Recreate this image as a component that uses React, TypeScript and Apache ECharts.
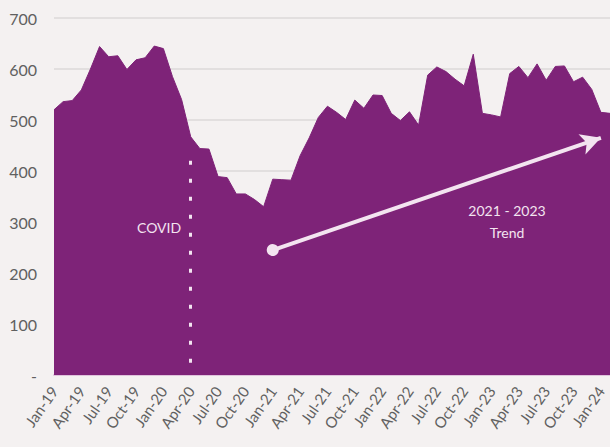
import React, { useEffect, useRef } from "react";
import * as echarts from "echarts";

const monthNames = ["Jan", "Feb", "Mar", "Apr", "May", "Jun", "Jul", "Aug", "Sep", "Oct", "Nov", "Dec"];
const years = ["19", "20", "21", "22", "23", "24"];
const categories: string[] = [];
years.forEach((y) => monthNames.forEach((m) => categories.push(`${m}-${y}`)));
categories.length = 62; // Jan-19 .. Feb-24

const values = [
  520, 536, 538, 559, 600, 644, 624, 626, 599, 618, 622, 645,
  640, 585, 540, 467, 444, 443, 389, 387, 355, 355, 344, 330,
  384, 383, 382, 430, 465, 505, 527, 515, 501, 539, 523, 549,
  548, 513, 499, 516, 490, 588, 604, 595, 580, 567, 629, 513,
  510, 506, 591, 605, 583, 610, 578, 605, 606, 575, 584, 560,
  515, 513,
];

const covidMonth = "Apr-20";
const covidTop = 420;
const trendStart = { month: "Jan-21", value: 245 };
const trendEnd = { month: "Jan-24", value: 465 };

const PURPLE = "#7e2378";
const ANNOT = "#f3e4f0";

export default function App() {
  const ref = useRef<HTMLDivElement>(null);
  useEffect(() => {
    if (!ref.current) return;
    const chart = echarts.init(ref.current, null, { renderer: "svg" });
    chart.setOption({
      animation: false,
      backgroundColor: "#f4f1f1",
      textStyle: { fontFamily: "Lato" },
      grid: { left: 54, right: 0, top: 18, bottom: 72, containLabel: false },
      xAxis: {
        type: "category",
        data: categories,
        boundaryGap: false,
        axisLine: { show: true, lineStyle: { color: "#dfc3dc", width: 2 } },
        axisTick: { show: false },
        splitLine: { show: false },
        axisLabel: {
          interval: 2,
          rotate: 55,
          margin: 13,
          fontSize: 15,
          color: "#606060",
          fontFamily: "Lato",
        },
      },
      yAxis: {
        type: "value",
        min: 0,
        max: 700,
        interval: 100,
        axisLine: { show: false },
        axisTick: { show: false },
        splitLine: { lineStyle: { color: "#dcd9d9", width: 1.5 } },
        axisLabel: {
          margin: 17,
          fontSize: 16,
          color: "#606060",
          fontFamily: "Lato",
          formatter: (v: number) => (v === 0 ? "-" : String(v)),
        },
      },
      series: [
        {
          type: "line",
          data: values,
          symbol: "none",
          lineStyle: { color: PURPLE, width: 1 },
          itemStyle: { color: PURPLE },
          areaStyle: { color: PURPLE, opacity: 1 },
          z: 2,
          markLine: {
            silent: true,
            animation: false,
            label: { show: false },
            data: [
              [
                { coord: [covidMonth, covidTop], symbol: "none", lineStyle: { type: [4, 14], color: ANNOT, width: 3 } },
                { coord: [covidMonth, 0], symbol: "none" },
              ],
              [
                {
                  coord: [trendStart.month, trendStart.value],
                  symbol: "circle",
                  symbolSize: 12,
                  lineStyle: { type: "solid", color: ANNOT, width: 4 },
                },
                { coord: [trendEnd.month, trendEnd.value], symbol: "arrow", symbolSize: [16, 20] },
              ],
            ],
            lineStyle: { color: ANNOT },
            itemStyle: { color: ANNOT },
          },
        },
      ],
      graphic: [
        {
          type: "text",
          left: 137,
          top: 220,
          z: 10,
          style: { text: "COVID", fill: ANNOT, fontSize: 14, fontFamily: "Lato" },
        },
        {
          type: "text",
          x: 507,
          y: 199,
          z: 10,
          style: {
            text: "2021 - 2023\nTrend",
            fill: ANNOT,
            fontSize: 14,
            lineHeight: 22,
            align: "center",
            fontFamily: "Lato",
          },
        },
      ],
    });
    return () => chart.dispose();
  }, []);
  return (
    <div
      ref={ref}
      style={{ position: "fixed", left: 0, top: 0, width: 610, height: 447 }}
    />
  );
}
